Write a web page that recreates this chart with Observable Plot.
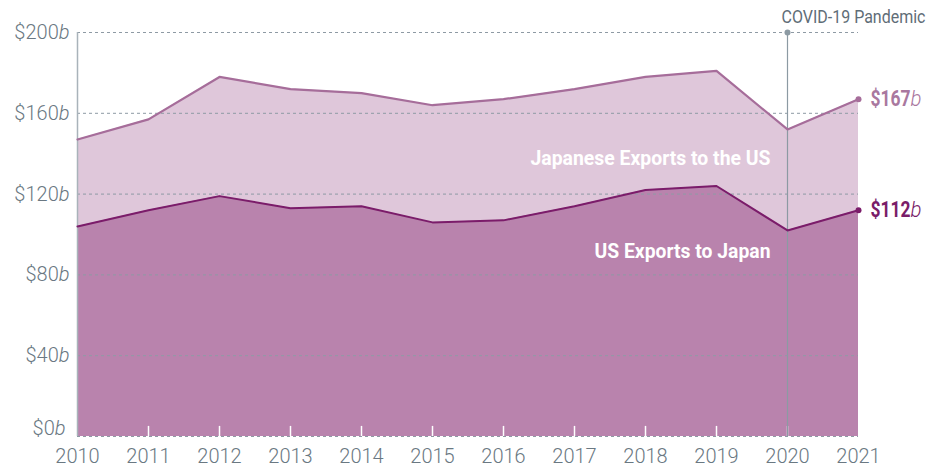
<!DOCTYPE html>
<html>
<head>
<meta charset="utf-8">
<script src="https://cdn.jsdelivr.net/npm/d3@7"></script>
<script src="https://cdn.jsdelivr.net/npm/@observablehq/plot@0.6"></script>
<style>
  html, body { margin: 0; padding: 0; background: #fff; }
  #chart svg { display: block; }
</style>
</head>
<body>
<div id="chart"></div>
<script>
const years = [2010, 2011, 2012, 2013, 2014, 2015, 2016, 2017, 2018, 2019, 2020, 2021];
const japanExports = [147, 157, 178, 172, 170, 164, 167, 172, 178, 181, 152, 167];
const usExports = [104, 112, 119, 113, 114, 106, 107, 114, 122, 124, 102, 112];
const yTicks = [0, 40, 80, 120, 160, 200];
const covidYear = 2020;
const covidLabel = "COVID-19 Pandemic";
const seriesLabels = ["Japanese Exports to the US", "US Exports to Japan"];

const data = years.map((y, i) => ({year: y, jp: japanExports[i], us: usExports[i]}));
const last = data[data.length - 1];
const innerYears = years.slice(1, -1);

const font = "Roboto, 'DejaVu Sans Condensed', sans-serif";
const gray = "#6a7882";

const plot = Plot.plot({
  width: 929,
  height: 468,
  marginLeft: 77,
  marginRight: 71,
  marginTop: 32,
  marginBottom: 32,
  style: {fontFamily: font, background: "#fff", overflow: "visible"},
  x: {domain: [2010, 2021], type: "linear"},
  y: {domain: [0, 200]},
  marks: [
    Plot.areaY(data, {x: "year", y: "jp", fill: "#dfc7da"}),
    Plot.areaY(data, {x: "year", y: "us", fill: "#b983ad"}),
    Plot.gridY(yTicks, {stroke: "#8e9aa4", strokeOpacity: 1, strokeDasharray: "3,3", strokeWidth: 1}),
    Plot.ruleX(innerYears, {y1: 0, y2: 5, stroke: "white", strokeWidth: 1.5}),
    Plot.ruleX([2010], {y1: 0, y2: 200, stroke: "#a9b3ba", strokeWidth: 1.5}),
    Plot.ruleX([covidYear], {y1: 0, y2: 200, stroke: "#8c9aa3", strokeWidth: 1.2}),
    Plot.dot([covidYear], {x: d => d, y: 200, r: 3, fill: "#8c9aa3"}),
    Plot.text([covidLabel], {x: 2021, y: 200, dy: -16, dx: 67, textAnchor: "end", fontSize: 19, fill: "#5f6d77"}),
    Plot.line(data, {x: "year", y: "jp", stroke: "#a66d9a", strokeWidth: 2.2}),
    Plot.line(data, {x: "year", y: "us", stroke: "#7b1c6a", strokeWidth: 2}),
    Plot.dot([last], {x: "year", y: "jp", r: 3, fill: "#a66d9a"}),
    Plot.dot([last], {x: "year", y: "us", r: 3, fill: "#7b1c6a"}),
    Plot.text([last], {x: "year", y: "jp", text: d => `$${d.jp}b`, dx: 12, textAnchor: "start", fontSize: 22, fontWeight: "bold", fill: "#a9789f"}),
    Plot.text([last], {x: "year", y: "us", text: d => `$${d.us}b`, dx: 12, textAnchor: "start", fontSize: 22, fontWeight: "bold", fill: "#7a1d69"}),
    Plot.text([seriesLabels[0]], {x: 2021, y: 137.5, dx: -88, textAnchor: "end", fontSize: 21, fontWeight: "bold", fill: "white"}),
    Plot.text([seriesLabels[1]], {x: 2021, y: 91.5, dx: -88, textAnchor: "end", fontSize: 21, fontWeight: "bold", fill: "white"}),
    Plot.axisY(yTicks.slice(1), {tickSize: 0, tickPadding: 8, tickFormat: d => `$${d}b`, fontSize: 20, fontWeight: 300, fill: gray, label: null}),
    Plot.axisY([0], {tickSize: 0, tickPadding: 12, dy: -8, tickFormat: d => `$${d}b`, fontSize: 20, fontWeight: 300, fill: gray, label: null}),
    Plot.axisX(years, {tickSize: 0, tickPadding: 12, tickFormat: d => String(d), fontSize: 20, fontWeight: 300, fill: gray, label: null})
  ]
});

const svg = d3.select(plot);
const widths = {[seriesLabels[0]]: 240, [seriesLabels[1]]: 176, [covidLabel]: 144};
svg.selectAll("text").each(function() {
  const t = d3.select(this);
  const s = t.text();
  if (/^\$\d+b$/.test(s)) {
    const bold = this.closest("g[font-weight]")?.getAttribute("font-weight") === "bold";
    t.text(null);
    const a = t.append("tspan").text(s.slice(0, -1));
    const b = t.append("tspan").attr("font-style", "italic").attr("font-weight", "300").text("b");
    if (bold) {
      a.attr("textLength", 40).attr("lengthAdjust", "spacingAndGlyphs");
      b.attr("textLength", 11).attr("lengthAdjust", "spacingAndGlyphs");
    }
  } else if (widths[s]) {
    t.attr("textLength", widths[s]).attr("lengthAdjust", "spacingAndGlyphs");
  }
});
document.getElementById("chart").appendChild(plot);
</script>
</body>
</html>
